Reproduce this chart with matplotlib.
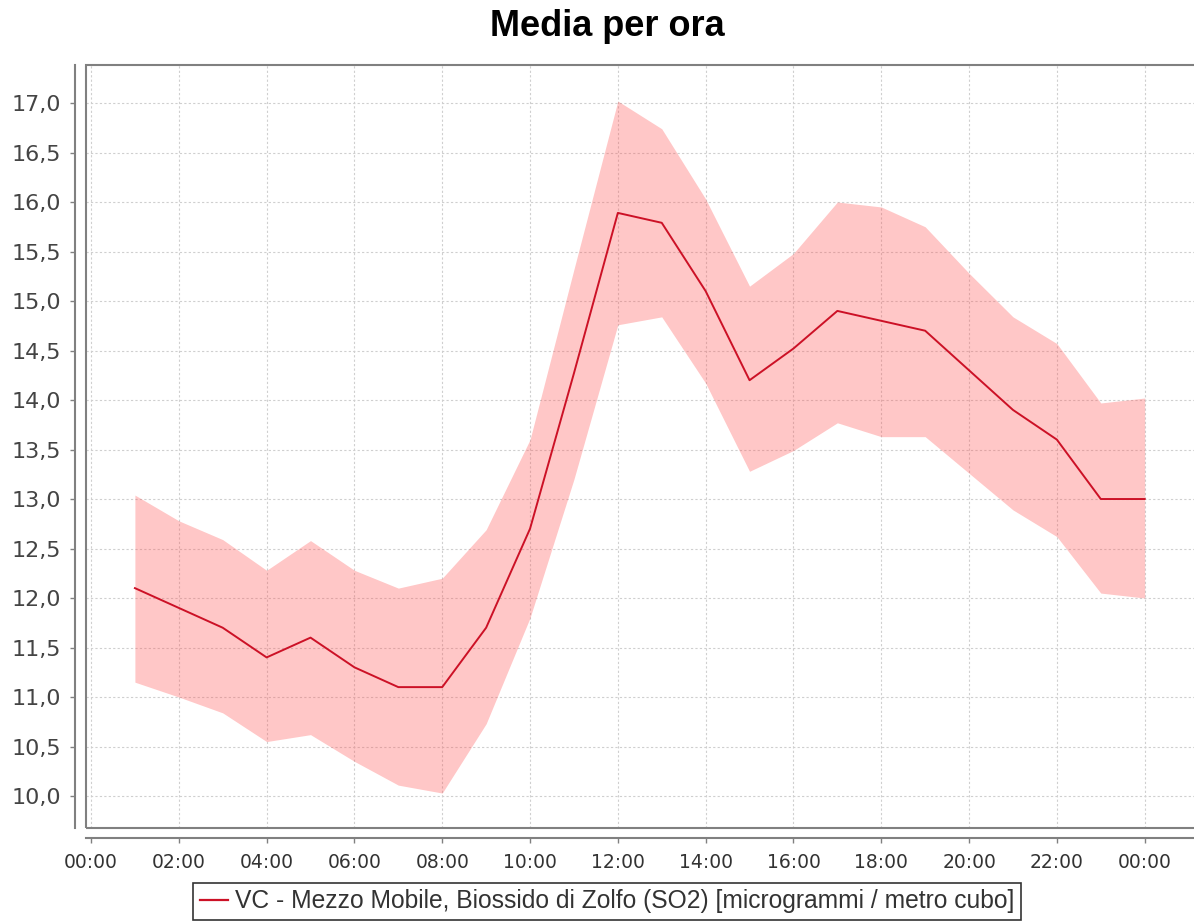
import numpy as np
import matplotlib.pyplot as plt
from matplotlib.patches import Rectangle
from matplotlib.ticker import FuncFormatter, MultipleLocator

# hourly mean and deviation band (microgrammi / metro cubo)
hours = [1, 2, 3, 4, 5, 6, 7, 8, 9, 10, 11, 12,
         13, 14, 15, 16, 17, 18, 19, 20, 21, 22, 23, 24]
mean = [12.1, 11.9, 11.7, 11.4, 11.6, 11.3, 11.1, 11.1, 11.7, 12.7, 14.27, 15.89,
        15.79, 15.1, 14.2, 14.52, 14.9, 14.8, 14.7, 14.3, 13.9, 13.6, 13.0, 13.0]
upper = [13.04, 12.78, 12.59, 12.28, 12.58, 12.28, 12.10, 12.20, 12.69, 13.60, 15.32, 17.02,
         16.74, 16.03, 15.15, 15.48, 16.00, 15.95, 15.75, 15.28, 14.84, 14.57, 13.97, 14.02]
lower = [11.15, 11.00, 10.84, 10.55, 10.62, 10.35, 10.11, 10.03, 10.73, 11.80, 13.20, 14.76,
         14.84, 14.17, 13.28, 13.49, 13.77, 13.63, 13.63, 13.26, 12.89, 12.62, 12.05, 12.00]
tick_hours = list(range(0, 25, 2))
tick_labels = ["%02d:00" % (h % 24) for h in tick_hours]
series_name = "VC - Mezzo Mobile, Biossido di Zolfo (SO2) [microgrammi / metro cubo]"

W, H = 1194, 923
fig = plt.figure(figsize=(W / 100, H / 100), dpi=100)
fig.patch.set_facecolor("white")

left, right, top, bottom = 86, 1200, 65, 828
ax = fig.add_axes([left / W, 1 - bottom / H, (right - left) / W, (bottom - top) / H])

axis_grey = "#808080"

ax.fill_between(hours, lower, upper, color="#ff5555", alpha=0.33, linewidth=0, zorder=2)
ax.plot(hours, mean, color="#cc1126", linewidth=1.4, zorder=3, label=series_name)

ax.set_xlim(-0.114, 25.26)
ax.set_ylim(9.677, 17.384)

ax.yaxis.set_major_locator(MultipleLocator(0.5))
ax.yaxis.set_major_formatter(FuncFormatter(lambda v, p: ("%.1f" % v).replace(".", ",")))
ax.set_xticks(tick_hours)
ax.set_xticklabels(tick_labels)

ax.grid(True, color="#cfcfcf", linestyle=(0, (2, 2)), linewidth=0.8, zorder=1)
ax.set_axisbelow(True)

# plot frame and detached axis lines
ax.add_patch(Rectangle((0, 0), 1, 1, transform=ax.transAxes, fill=False,
                       edgecolor=axis_grey, linewidth=1.5, clip_on=False, zorder=5))
for s in ["top", "right"]:
    ax.spines[s].set_visible(False)
ax.spines["left"].set_position(("outward", 8))
ax.spines["bottom"].set_position(("outward", 7.2))
for s in ["left", "bottom"]:
    ax.spines[s].set_color(axis_grey)
    ax.spines[s].set_linewidth(1.5)

ax.tick_params(axis="y", length=3.6, width=1, color=axis_grey, pad=6.5,
               labelsize=16, labelcolor="#444444")
ax.tick_params(axis="x", length=3.6, width=1, color=axis_grey, pad=7,
               labelsize=13.5, labelcolor="#333333")

fig.text(607 / W, 1 - 26 / H, "Media per ora", ha="center", va="center",
         fontsize=26, fontweight="bold", family="Liberation Sans")

leg = fig.legend(loc="lower center", bbox_to_anchor=(607 / W, 3 / H), ncol=1,
                 prop={"family": "Liberation Sans", "size": 17.7},
                 frameon=True, fancybox=False, handlelength=1.15,
                 handletextpad=0.29, borderpad=0.27, borderaxespad=0)
leg.get_frame().set_edgecolor("black")
leg.get_frame().set_linewidth(1.2)
for line in leg.get_lines():
    line.set_linewidth(1.6)
for t in leg.get_texts():
    t.set_color("#333333")

fig.savefig("out.png", dpi=100)
